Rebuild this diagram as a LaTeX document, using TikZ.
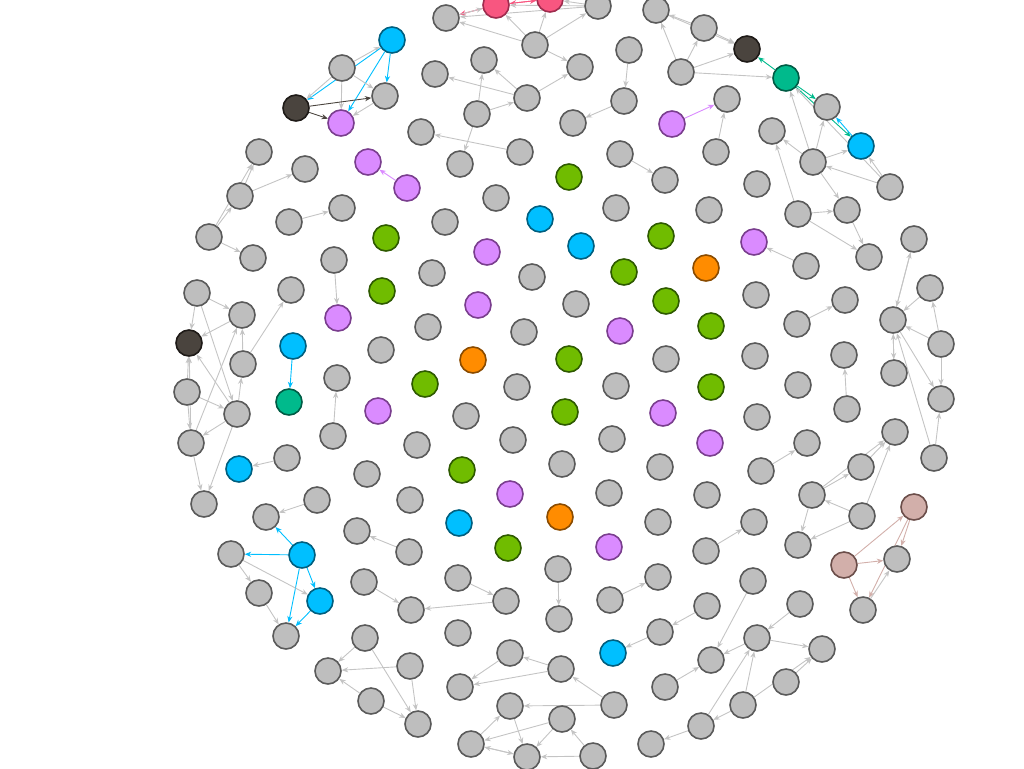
\documentclass[tikz,border=0pt]{standalone}
\usetikzlibrary{arrows.meta}
\definecolor{cgray}{HTML}{BEBEBE}
\definecolor{cgrayb}{HTML}{5A5A5A}
\definecolor{cpink}{HTML}{F85680}
\definecolor{cpinkb}{HTML}{9E2C4E}
\definecolor{cblue}{HTML}{00BFFF}
\definecolor{cblueb}{HTML}{005F7F}
\definecolor{cpurp}{HTML}{DA8BFF}
\definecolor{cpurpb}{HTML}{7A3E8E}
\definecolor{cgreen}{HTML}{70BC00}
\definecolor{cgreenb}{HTML}{2E5A00}
\definecolor{corange}{HTML}{FF8C00}
\definecolor{corangeb}{HTML}{8A4B00}
\definecolor{cdark}{HTML}{4A443E}
\definecolor{cdarkb}{HTML}{1E1A17}
\definecolor{cteal}{HTML}{00BA8C}
\definecolor{ctealb}{HTML}{005C45}
\definecolor{crose}{HTML}{D2AFAA}
\definecolor{croseb}{HTML}{6B4E4A}
\definecolor{cedge}{HTML}{C4C4C4}
\pgfdeclarelayer{bg}
\pgfsetlayers{bg,main}
\tikzset{
  nbase/.style={circle,minimum size=13pt,inner sep=0pt,line width=0.8pt},
  ngray/.style={nbase,fill=cgray,draw=cgrayb},
  npink/.style={nbase,fill=cpink,draw=cpinkb},
  nblue/.style={nbase,fill=cblue,draw=cblueb},
  npurp/.style={nbase,fill=cpurp,draw=cpurpb},
  ngreen/.style={nbase,fill=cgreen,draw=cgreenb},
  norange/.style={nbase,fill=corange,draw=corangeb},
  ndark/.style={nbase,fill=cdark,draw=cdarkb},
  nteal/.style={nbase,fill=cteal,draw=ctealb},
  nrose/.style={nbase,fill=crose,draw=croseb},
  ebase/.style={line width=0.45pt,-{Stealth[length=3.2pt,width=2.6pt]}},
  eg/.style={ebase,draw=cedge},
  eb/.style={ebase,draw=cblue},
  ep/.style={ebase,draw=cpink},
  et/.style={ebase,draw=cteal},
  eu/.style={ebase,draw=cpurp},
  ed/.style={ebase,draw=cdark},
  er/.style={ebase,draw=crose},
}
\begin{document}
\begin{tikzpicture}[x=0.5pt,y=-0.5pt]
\useasboundingbox (0,0) rectangle (1024,768);
\foreach \i/\x/\y/\s in {
1/446/18/ngray,2/496/5/npink,3/550/-1/npink,4/598/6/ngray,5/656/10/ngray,
6/704/28/ngray,7/747/49/ndark,8/786/78/nteal,9/827/107/ngray,10/861/146/nblue,
11/890/187/ngray,12/392/40/nblue,13/342/68/ngray,14/296/108/ndark,15/385/96/ngray,
16/341/123/npurp,17/535/45/ngray,18/484/60/ngray,19/580/67/ngray,20/629/50/ngray,
21/681/72/ngray,22/435/74/ngray,23/527/98/ngray,24/477/114/ngray,25/624/101/ngray,
26/727/99/ngray,27/672/124/npurp,28/421/132/ngray,29/573/123/ngray,30/520/152/ngray,
31/460/164/ngray,32/368/162/npurp,33/407/188/npurp,34/259/152/ngray,35/305/169/ngray,
36/240/196/ngray,37/342/208/ngray,38/289/222/ngray,39/209/237/ngray,40/253/258/ngray,
41/620/154/ngray,42/569/177/ngreen,43/665/180/ngray,44/716/152/ngray,45/772/131/ngray,
46/813/162/ngray,47/757/184/ngray,48/496/198/ngray,49/540/219/nblue,50/616/208/ngray,
51/709/210/ngray,52/798/214/ngray,53/847/210/ngray,54/869/257/ngray,55/914/239/ngray,
56/445/222/ngray,57/386/238/ngreen,58/487/252/npurp,59/581/246/nblue,60/661/236/ngreen,
61/754/242/npurp,62/806/266/ngray,63/334/260/ngray,64/432/273/ngray,65/532/277/ngray,
66/624/272/ngreen,67/706/268/norange,68/197/293/ngray,69/291/290/ngray,70/242/315/ngray,
71/382/291/ngreen,72/478/305/npurp,73/576/304/ngray,74/666/301/ngreen,75/756/295/ngray,
76/845/300/ngray,77/893/320/ngray,78/930/288/ngray,79/941/344/ngray,80/189/343/ndark,
81/338/318/npurp,82/428/327/ngray,83/524/332/ngray,84/620/331/npurp,85/711/326/ngreen,
86/797/324/ngray,87/243/364/ngray,88/293/346/nblue,89/381/350/ngray,90/473/360/norange,
91/569/359/ngreen,92/666/359/ngray,93/755/356/ngray,94/844/355/ngray,95/894/373/ngray,
96/187/392/ngray,97/337/378/ngray,98/289/402/nteal,99/425/384/ngreen,100/517/387/ngray,
101/616/386/ngray,102/711/387/ngreen,103/798/385/ngray,104/941/399/ngray,105/237/414/ngray,
106/378/411/npurp,107/466/416/ngray,108/565/412/ngreen,109/663/413/npurp,110/757/417/ngray,
111/847/409/ngray,112/191/443/ngray,113/333/436/ngray,114/417/445/ngray,115/513/440/ngray,
116/612/439/ngray,117/710/443/npurp,118/807/443/ngray,119/895/432/ngray,120/934/458/ngray,
121/287/458/ngray,122/239/469/nblue,123/367/474/ngray,124/462/470/ngreen,125/562/464/ngray,
126/660/467/ngray,127/761/471/ngray,128/861/467/ngray,129/204/504/ngray,130/317/500/ngray,
131/410/500/ngray,132/510/494/npurp,133/609/493/ngray,134/707/495/ngray,135/812/495/ngray,
136/914/507/nrose,137/266/517/ngray,138/357/531/ngray,139/459/523/nblue,140/560/517/norange,
141/658/522/ngray,142/754/522/ngray,143/862/516/ngray,144/231/554/ngray,145/302/555/nblue,
146/409/552/ngray,147/508/548/ngreen,148/609/547/npurp,149/706/551/ngray,150/798/545/ngray,
151/844/565/nrose,152/897/559/ngray,153/259/593/ngray,154/320/601/nblue,155/364/582/ngray,
156/458/578/ngray,157/558/569/ngray,158/658/577/ngray,159/753/581/ngray,160/863/610/ngray,
161/411/610/ngray,162/506/601/ngray,163/559/619/ngray,164/610/600/ngray,165/707/606/ngray,
166/800/604/ngray,167/286/636/ngray,168/365/638/ngray,169/458/633/ngray,170/613/653/nblue,
171/660/632/ngray,172/757/638/ngray,173/822/649/ngray,174/328/671/ngray,175/410/666/ngray,
176/510/653/ngray,177/561/669/ngray,178/711/660/ngray,179/786/682/ngray,180/371/701/ngray,
181/460/687/ngray,182/665/687/ngray,183/743/705/ngray,184/418/724/ngray,185/510/706/ngray,
186/562/719/ngray,187/614/705/ngray,188/701/726/ngray,189/471/744/ngray,190/527/757/ngray,
191/593/756/ngray,192/651/744/ngray}
  \node[\s] (n\i) at (\x,\y) {};
\begin{pgfonlayer}{bg}
\foreach \a/\b/\c in {
13/12/eg,12/14/eb,12/16/eb,12/15/eb,13/14/eg,13/16/eg,13/15/eg,14/15/ed,14/16/ed,15/16/eg,
2/1/ep,3/2/ep,2/3/ep,1/2/eg,4/1/eg,4/2/eg,17/1/eg,17/2/eg,17/3/eg,17/4/eg,17/19/eg,4/3/eg,
23/22/eg,23/18/eg,23/19/eg,24/18/eg,24/23/eg,24/31/eg,30/28/eg,20/25/eg,25/29/eg,
21/5/eg,21/6/eg,21/7/eg,21/8/eg,6/5/eg,5/7/eg,6/7/eg,8/7/et,8/9/et,8/10/et,10/9/eb,
11/10/eg,11/8/eg,11/46/eg,46/9/eg,46/10/eg,46/45/eg,46/53/eg,46/8/eg,52/45/eg,52/53/eg,
52/54/eg,53/54/eg,27/26/eu,44/26/eg,41/43/eg,33/32/eu,
39/36/eg,39/34/eg,36/34/eg,36/35/eg,39/40/eg,38/37/eg,
68/70/eg,70/80/eg,68/80/eg,68/105/eg,96/80/eg,96/112/eg,112/80/eg,105/80/eg,96/105/eg,
105/112/eg,112/70/eg,87/70/eg,87/69/eg,105/87/eg,105/129/eg,112/129/eg,121/122/eg,
88/98/eb,63/81/eg,113/97/eg,130/137/eg,
145/137/eb,145/144/eb,145/154/eb,145/167/eb,154/167/eb,144/153/eg,144/154/eg,153/167/eg,
168/174/eg,175/174/eg,180/174/eg,146/138/eg,155/161/eg,162/161/eg,156/162/eg,157/163/eg,
175/184/eg,168/184/eg,180/184/eg,176/181/eg,177/181/eg,177/176/eg,189/185/eg,186/189/eg,
187/185/eg,186/190/eg,185/190/eg,189/190/eg,190/189/eg,191/190/eg,187/177/eg,191/186/eg,
149/142/eg,164/158/eg,165/171/eg,171/170/eg,159/178/eg,172/178/eg,182/178/eg,188/172/eg,
183/172/eg,183/188/eg,188/192/eg,183/173/eg,179/173/eg,172/173/eg,166/172/eg,143/150/eg,
135/150/eg,151/136/er,151/152/er,151/160/er,136/152/er,136/160/er,160/152/eg,
62/61/eg,86/76/eg,111/94/eg,95/77/eg,77/95/eg,78/77/eg,79/77/eg,79/78/eg,79/104/eg,77/104/eg,
120/104/eg,120/77/eg,55/77/eg,77/55/eg,128/119/eg,135/128/eg,135/119/eg,143/119/eg,
143/135/eg,127/118/eg}
  \draw[\c] (n\a) -- (n\b);
\end{pgfonlayer}
\end{tikzpicture}
\end{document}
